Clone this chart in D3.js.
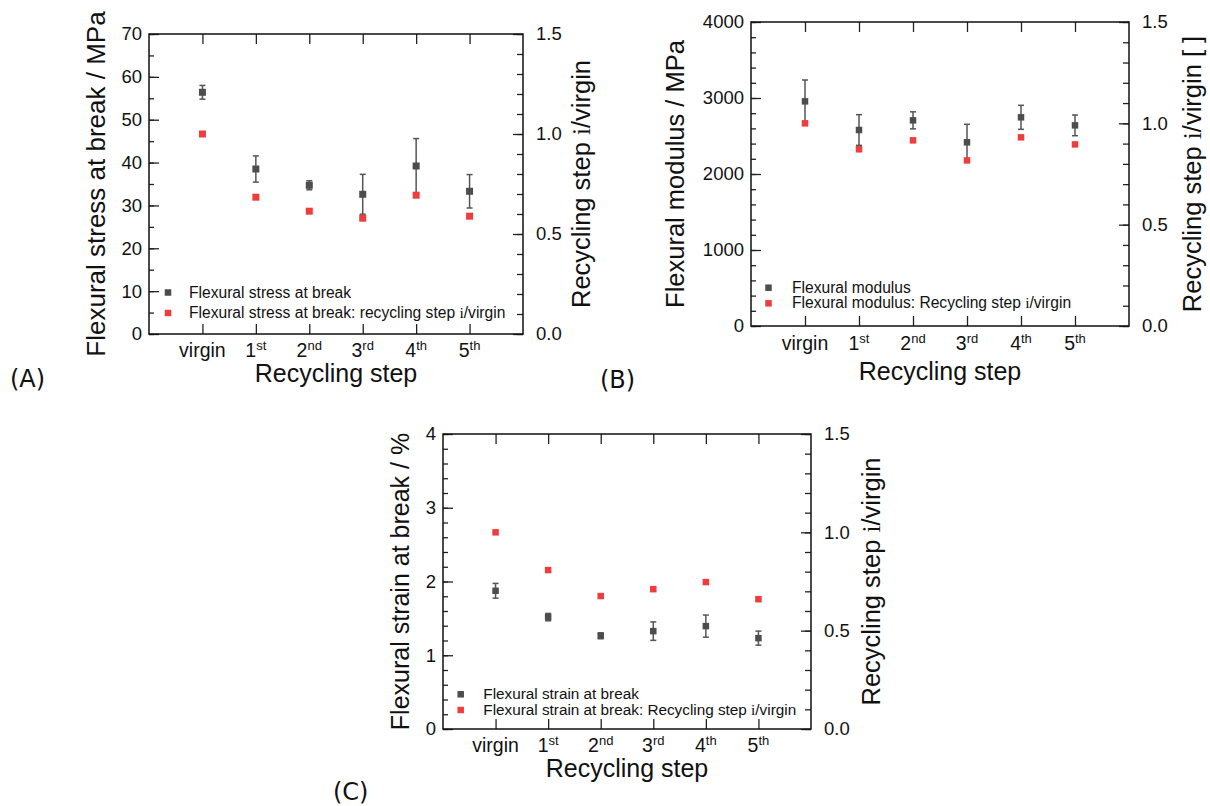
<!DOCTYPE html>
<html>
<head>
<meta charset="utf-8">
<script src="https://cdn.jsdelivr.net/npm/d3@7"></script>
<style>
body { margin: 0; background: #fff; }
svg text { font-family: "Liberation Sans", Arial, sans-serif; fill: #111; }
</style>
</head>
<body>
<svg id="chart" width="1210" height="806"></svg>
<script>
// recycling steps (x categories)
var steps = ["virgin", "1", "2", "3", "4", "5"];
var stepSup = ["", "st", "nd", "rd", "th", "th"];

// (A) flexural stress at break, MPa
var stressMean = [56.4, 38.5, 34.7, 32.6, 39.2, 33.3];
var stressErr = [1.6, 3.05, 1.05, 4.65, 6.4, 3.9];
var stressRatio = [1.0, 0.684, 0.614, 0.579, 0.694, 0.589];

// (B) flexural modulus, MPa
var modulusMean = [2956, 2579, 2706, 2417, 2746, 2640];
var modulusErr = [281, 202, 112, 237, 158, 136];
var modulusRatio = [1.0, 0.872, 0.916, 0.817, 0.931, 0.896];

// (C) flexural strain at break, %
var strainMean = [1.874, 1.517, 1.264, 1.327, 1.395, 1.232];
var strainErr = [0.1, 0.05, 0.04, 0.125, 0.15, 0.095];
var strainRatio = [1.0, 0.808, 0.676, 0.711, 0.747, 0.660];

var rightTicks = [0, 0.5, 1.0, 1.5];

var svg = d3.select("#chart");
var grey = "#4d4d4d", red = "#ef3d3d";

function styleAxis(a) {
    a.select(".domain").remove();
    a.selectAll(".tick line").attr("stroke", "#222").attr("stroke-width", 1.3);
    a.selectAll(".tick text").attr("font-size", 18.5).attr("fill", "#111")
        .style("font-family", "'Liberation Sans', Arial, sans-serif");
}

function drawPanel(p) {
    var g = svg.append("g");
    var x = d3.scalePoint().domain(steps).range([p.x0, p.x1]).padding(1);
    var y = d3.scaleLinear().domain(p.leftDomain).range([p.y1, p.y0]);
    var y2 = d3.scaleLinear().domain([0, 1.5]).range([p.y1, p.y0]);

    // left axis: minor then major
    g.append("g").attr("transform", "translate(" + p.x0 + ",0)")
        .call(d3.axisLeft(y).tickValues(y.ticks(p.minorCount)).tickSize(-5).tickFormat(""))
        .call(styleAxis);
    g.append("g").attr("transform", "translate(" + p.x0 + ",0)")
        .call(d3.axisLeft(y).tickValues(y.ticks(p.majorCount)).tickSize(-10).tickPadding(7).tickFormat(d3.format("d")))
        .call(styleAxis);

    // right axis
    g.append("g").attr("transform", "translate(" + p.x1 + ",0)")
        .call(d3.axisRight(y2).tickValues(y2.ticks(15)).tickSize(-6).tickFormat(""))
        .call(styleAxis);
    g.append("g").attr("transform", "translate(" + p.x1 + ",0)")
        .call(d3.axisRight(y2).tickValues(rightTicks).tickSize(-10).tickPadding(13).tickFormat(d3.format(".1f")))
        .call(styleAxis);

    // bottom / top category ticks
    g.append("g").attr("transform", "translate(0," + p.y1 + ")")
        .call(d3.axisBottom(x).tickSize(-10).tickFormat(""))
        .call(styleAxis);
    g.append("g").attr("transform", "translate(0," + p.y0 + ")")
        .call(d3.axisTop(x).tickSize(-10).tickFormat(""))
        .call(styleAxis);

    // category labels with superscripts
    var lab = g.selectAll(".xlab").data(steps).join("text")
        .attr("class", "xlab")
        .attr("x", function(d) { return x(d); })
        .attr("y", p.labelY)
        .attr("text-anchor", "middle")
        .attr("font-size", 19.5)
        .text(function(d) { return d; });
    lab.append("tspan")
        .attr("font-size", 13)
        .attr("dy", -7.5)
        .text(function(d, i) { return stepSup[i]; });

    // frame
    g.append("rect")
        .attr("x", p.x0).attr("y", p.y0)
        .attr("width", p.x1 - p.x0).attr("height", p.y1 - p.y0)
        .attr("fill", "none").attr("stroke", "#111").attr("stroke-width", 1.5);

    // error bars
    var eb = g.selectAll(".eb").data(p.mean).join("g").attr("class", "eb")
        .attr("stroke", "#555").attr("stroke-width", 1.5);
    eb.append("line")
        .attr("x1", function(d, i) { return x(steps[i]); })
        .attr("x2", function(d, i) { return x(steps[i]); })
        .attr("y1", function(d, i) { return y(d - p.err[i]); })
        .attr("y2", function(d, i) { return y(d + p.err[i]); });
    [-1, 1].forEach(function(s) {
        eb.append("line")
            .attr("x1", function(d, i) { return x(steps[i]) - 3; })
            .attr("x2", function(d, i) { return x(steps[i]) + 3; })
            .attr("y1", function(d, i) { return y(d + s * p.err[i]); })
            .attr("y2", function(d, i) { return y(d + s * p.err[i]); });
    });

    var m = p.marker;
    g.selectAll(".mean").data(p.mean).join("rect")
        .attr("class", "mean")
        .attr("x", function(d, i) { return x(steps[i]) - m / 2; })
        .attr("y", function(d) { return y(d) - m / 2; })
        .attr("width", m).attr("height", m)
        .attr("fill", grey);
    g.selectAll(".ratio").data(p.ratio).join("rect")
        .attr("class", "ratio")
        .attr("x", function(d, i) { return x(steps[i]) - m / 2; })
        .attr("y", function(d) { return y2(d) - m / 2; })
        .attr("width", m).attr("height", m)
        .attr("fill", red);

    // legend
    var leg = [
        { c: grey, t: p.legend1, y: p.legY1 },
        { c: red, t: p.legend2, y: p.legY2 }
    ];
    leg.forEach(function(l, k) {
        g.append("rect")
            .attr("x", p.legX - 3.25).attr("y", l.y - 5 - 3.25)
            .attr("width", 6.5).attr("height", 6.5)
            .attr("fill", l.c);
        var t = g.append("text")
            .attr("x", p.legTextX).attr("y", l.y)
            .attr("font-size", p.legSize)
            .text(l.t);
        if (k == 1) {
            t.append("tspan").style("font-family", "'Liberation Serif', serif").text("i");
            t.append("tspan").text("/virgin");
        }
    });

    // axis titles
    var cy = (p.y0 + p.y1) / 2;
    g.append("text")
        .attr("transform", "translate(" + p.leftTitleX + "," + cy + ") rotate(-90)")
        .attr("text-anchor", "middle")
        .attr("font-size", p.leftTitleSize)
        .text(p.leftTitle);
    var rt = g.append("text")
        .attr("transform", "translate(" + p.rightTitleX + "," + cy + ") rotate(-90)")
        .attr("text-anchor", "middle")
        .attr("font-size", 25.5)
        .text("Recycling step ");
    rt.append("tspan").style("font-family", "'Liberation Serif', serif").text("i");
    rt.append("tspan").text("/virgin" + p.rightSuffix);

    g.append("text")
        .attr("x", (p.x0 + p.x1) / 2).attr("y", p.xTitleY)
        .attr("text-anchor", "middle")
        .attr("font-size", 25)
        .text("Recycling step");

    g.append("text")
        .attr("x", p.tagX).attr("y", p.tagY)
        .attr("font-size", 24)
        .style("font-family", "'DejaVu Sans', sans-serif")
        .text(p.tag);
}

drawPanel({
    x0: 149, x1: 523, y0: 34, y1: 334,
    leftDomain: [0, 70], majorCount: 7, minorCount: 14,
    mean: stressMean, err: stressErr, ratio: stressRatio, marker: 7,
    labelY: 357, xTitleY: 382,
    leftTitle: "Flexural stress at break / MPa", leftTitleX: 105, leftTitleSize: 26,
    rightTitleX: 590, rightSuffix: "",
    legX: 168, legTextX: 189, legY1: 297.5, legY2: 318, legSize: 15.6,
    legend1: "Flexural stress at break",
    legend2: "Flexural stress at break: recycling step ",
    tag: "(A)", tagX: 10, tagY: 387
});

drawPanel({
    x0: 751, x1: 1129, y0: 22, y1: 326,
    leftDomain: [0, 4000], majorCount: 4, minorCount: 20,
    mean: modulusMean, err: modulusErr, ratio: modulusRatio, marker: 6.5,
    labelY: 350, xTitleY: 380,
    leftTitle: "Flexural modulus / MPa", leftTitleX: 684, leftTitleSize: 25.5,
    rightTitleX: 1201, rightSuffix: " [ ]",
    legX: 768.5, legTextX: 792, legY1: 292.7, legY2: 308.3, legSize: 15.6,
    legend1: "Flexural modulus",
    legend2: "Flexural modulus: Recycling step ",
    tag: "(B)", tagX: 600, tagY: 388
});

drawPanel({
    x0: 443, x1: 811, y0: 434, y1: 729,
    leftDomain: [0, 4], majorCount: 4, minorCount: 20,
    mean: strainMean, err: strainErr, ratio: strainRatio, marker: 6.5,
    labelY: 752, xTitleY: 777,
    leftTitle: "Flexural strain at break / %", leftTitleX: 409, leftTitleSize: 25,
    rightTitleX: 880, rightSuffix: "",
    legX: 460.7, legTextX: 483.3, legY1: 699.3, legY2: 715, legSize: 15.3,
    legend1: "Flexural strain at break",
    legend2: "Flexural strain at break: Recycling step ",
    tag: "(C)", tagX: 333, tagY: 800
});
</script>
</body>
</html>
